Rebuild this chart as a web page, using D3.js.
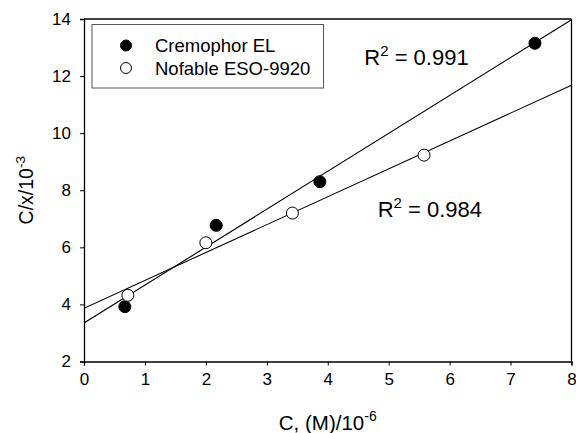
<!DOCTYPE html>
<html>
<head>
<meta charset="utf-8">
<script src="https://cdn.jsdelivr.net/npm/d3@7.9.0/dist/d3.min.js"></script>
<style>
  body { margin: 0; background: #fff; }
  svg { display: block; font-family: "Liberation Sans", Arial, sans-serif; }
</style>
</head>
<body>
<svg id="chart" width="576" height="433"></svg>
<script>
// data
const cremophorX = [0.67, 2.17, 3.87, 7.40];
const cremophorY = [3.92, 6.77, 8.30, 13.15];
const nofableX = [0.72, 2.00, 3.42, 5.58];
const nofableY = [4.32, 6.16, 7.20, 9.23];
const seriesNames = ['Cremophor EL', 'Nofable ESO-9920'];
const r2Labels = ['0.991', '0.984'];
const xTicks = [0, 1, 2, 3, 4, 5, 6, 7, 8];
const yTicks = [2, 4, 6, 8, 10, 12, 14];

const margin = { top: 19, right: 4.5, bottom: 71.5, left: 84 };
const svg = d3.select('#chart');
const W = +svg.attr('width'), H = +svg.attr('height');
const w = W - margin.left - margin.right;
const h = H - margin.top - margin.bottom;

const x = d3.scaleLinear().domain([0, 8]).range([0, w]);
const y = d3.scaleLinear().domain([2, 14]).range([h, 0]);

const g = svg.append('g').attr('transform', `translate(${margin.left},${margin.top})`);

svg.append('defs').append('clipPath').attr('id', 'plotclip')
  .append('rect').attr('width', w).attr('height', h);

// least squares fit for the trend lines
function fit(xs, ys) {
  const mx = d3.mean(xs), my = d3.mean(ys);
  let sxy = 0, sxx = 0;
  xs.forEach((v, i) => { sxy += (v - mx) * (ys[i] - my); sxx += (v - mx) * (v - mx); });
  const b = sxy / sxx;
  return { b: b, a: my - b * mx };
}

const series = [
  { name: seriesNames[0], pts: cremophorX.map((v, i) => [v, cremophorY[i]]), fill: '#000', fit: fit(cremophorX, cremophorY) },
  { name: seriesNames[1], pts: nofableX.map((v, i) => [v, nofableY[i]]), fill: '#fff', fit: fit(nofableX, nofableY) }
];

// axes
const xAxis = g.append('g').attr('transform', `translate(0,${h})`)
  .call(d3.axisBottom(x).tickValues(xTicks).tickFormat(d3.format('d')).tickSize(4).tickPadding(7));
const yAxis = g.append('g')
  .call(d3.axisLeft(y).tickValues(yTicks).tickFormat(d3.format('d')).tickSize(4).tickPadding(9));
[xAxis, yAxis].forEach(a => {
  a.select('.domain').attr('stroke', '#000').attr('stroke-width', 1.3);
  a.selectAll('.tick line').attr('stroke', '#000');
  a.selectAll('.tick text').attr('font-size', 17).attr('fill', '#000')
    .attr('font-family', '"Liberation Sans", Arial, sans-serif');
});

// frame top and right
g.append('line').attr('x1', 0).attr('x2', w).attr('y1', 0).attr('y2', 0).attr('stroke', '#000').attr('stroke-width', 1.3);
g.append('line').attr('x1', w).attr('x2', w).attr('y1', 0).attr('y2', h).attr('stroke', '#000').attr('stroke-width', 1.3);

// regression lines
const plot = g.append('g').attr('clip-path', 'url(#plotclip)');
series.forEach(s => {
  plot.append('line')
    .attr('x1', x(0)).attr('y1', y(s.fit.a))
    .attr('x2', x(8)).attr('y2', y(s.fit.a + s.fit.b * 8))
    .attr('stroke', '#000').attr('stroke-width', 1.1);
});

// points
series.forEach(s => {
  g.selectAll(null).data(s.pts).enter().append('circle')
    .attr('cx', d => x(d[0])).attr('cy', d => y(d[1])).attr('r', 6)
    .attr('fill', s.fill).attr('stroke', '#000').attr('stroke-width', 1);
});

// R^2 annotations
const r2Pos = [[4.6, 12.4], [4.82, 7.06]];
r2Labels.forEach((lab, i) => {
  const t = g.append('text').attr('x', x(r2Pos[i][0])).attr('y', y(r2Pos[i][1]))
    .attr('font-size', 22).attr('fill', '#000');
  t.append('tspan').text('R');
  t.append('tspan').attr('dy', -9).attr('font-size', 15).text('2');
  t.append('tspan').attr('dy', 9).text(' = ' + lab);
});

// legend
const lg = g.append('g').attr('transform', 'translate(8,5.5)');
lg.append('rect').attr('width', 231.5).attr('height', 63.5)
  .attr('fill', '#fff').attr('stroke', '#555').attr('stroke-width', 1);
series.forEach((s, i) => {
  const yy = 21 + i * 22.5;
  lg.append('circle').attr('cx', 34).attr('cy', yy).attr('r', 5.5)
    .attr('fill', s.fill).attr('stroke', '#000').attr('stroke-width', 1);
  lg.append('text').attr('x', 63).attr('y', yy + 6.8).attr('font-size', 18.5).attr('fill', '#000').text(s.name);
});

// axis titles
const xt = svg.append('text').attr('x', margin.left + w / 2).attr('y', 430)
  .attr('text-anchor', 'middle').attr('font-size', 20.5).attr('fill', '#000');
xt.append('tspan').text('C, (M)/10');
xt.append('tspan').attr('dy', -9).attr('font-size', 14).text('-6');

const yt = svg.append('text').attr('transform', `translate(33,${margin.top + h / 2}) rotate(-90)`)
  .attr('text-anchor', 'middle').attr('font-size', 19.5).attr('fill', '#000');
yt.append('tspan').text('C/x/10');
yt.append('tspan').attr('dy', -8.5).attr('font-size', 13.5).text('-3');
</script>
</body>
</html>
